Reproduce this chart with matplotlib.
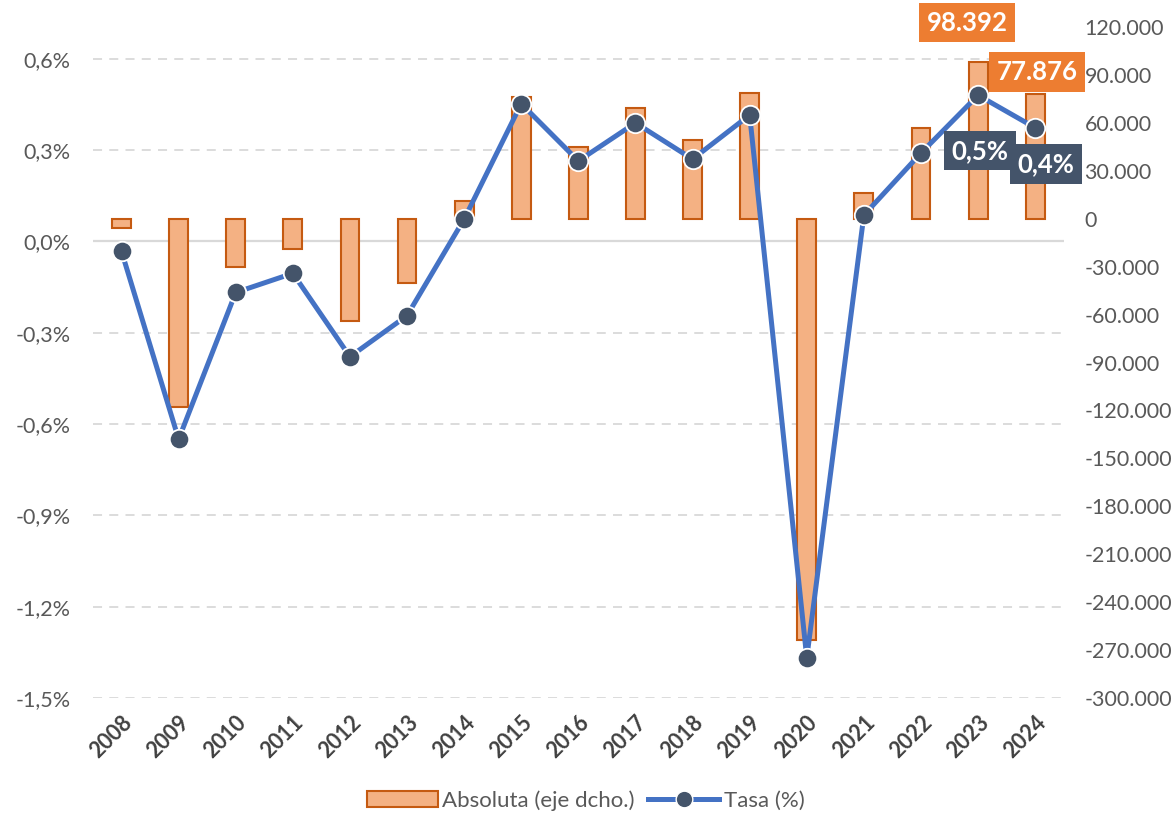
import matplotlib
matplotlib.use("Agg")
import matplotlib.pyplot as plt
import matplotlib.transforms as mtransforms
from matplotlib.patches import Patch
from matplotlib.lines import Line2D
import numpy as np

plt.rcParams['font.family'] = ['Lato', 'DejaVu Sans']

years = [2008, 2009, 2010, 2011, 2012, 2013, 2014, 2015, 2016,
         2017, 2018, 2019, 2020, 2021, 2022, 2023, 2024]
# absolute change (right axis)
absoluta = [-6000, -118000, -30000, -18700, -64000, -40000, 11300, 76000, 45000,
            69000, 49000, 79000, -264000, 16000, 57000, 98392, 77876]
# rate in % (left axis)
tasa = [-0.033, -0.65, -0.168, -0.105, -0.379, -0.244, 0.073, 0.452, 0.264,
        0.389, 0.270, 0.415, -1.368, 0.086, 0.29, 0.48, 0.373]

left_ticks = [-1.5, -1.2, -0.9, -0.6, -0.3, 0.0, 0.3, 0.6]
right_ticks = list(range(-300000, 120001, 30000))

GRAY = "#595959"
BAR_FILL = "#F4B183"
BAR_EDGE = "#C55A11"
LINE_C = "#4472C4"
MARK_C = "#44546A"
ORANGE = "#ED7D31"


def fmt_thousands(v):
    return f"{v:,.0f}".replace(",", ".")


def fmt_pct(v):
    return f"{v:.1f}%".replace(".", ",")


fig = plt.figure(figsize=(11.71, 8.16), dpi=100)
ax_bar = fig.add_axes([0.0794, 0.1446, 0.829, 0.8223])
ax_line = ax_bar.twinx()

x = np.array(years)

# bars on the right axis
ax_bar.bar(x, absoluta, width=0.33, color=BAR_FILL, edgecolor=BAR_EDGE,
           linewidth=1.5, zorder=2)
ax_bar.set_ylim(-300000, 120000)
ax_bar.set_yticks(right_ticks)
ax_bar.set_yticklabels([fmt_thousands(v) for v in right_ticks])
ax_bar.yaxis.tick_right()
ax_bar.set_xlim(2007.5, 2024.5)

# line on the left axis
ax_line.plot(x, tasa, color=LINE_C, lw=3.6, marker="o", markersize=14,
             markerfacecolor=MARK_C, markeredgecolor="white",
             markeredgewidth=1.3, zorder=3)
ax_line.set_ylim(-1.5, 0.704)
ax_line.set_yticks(left_ticks)
ax_line.set_yticklabels([fmt_pct(v) for v in left_ticks])
ax_line.yaxis.tick_left()

# gridlines following the left axis, behind the bars
trans = mtransforms.blended_transform_factory(ax_bar.transAxes, ax_line.transData)
for v in left_ticks:
    if v == 0:
        ax_bar.plot([0, 1], [v, v], transform=trans, color="#D9D9D9", lw=1.6, zorder=1)
    else:
        ax_bar.plot([0, 1], [v, v], transform=trans, color="#D9D9D9", lw=1.3,
                    ls=(0, (5, 4)), zorder=1)

for a in (ax_bar, ax_line):
    for s in a.spines.values():
        s.set_visible(False)
    a.tick_params(axis="y", length=0, labelsize=15.5, labelcolor=GRAY)

ax_bar.tick_params(axis="y", pad=15)
ax_line.tick_params(axis="y", pad=16)
ax_bar.set_xticks(x)
ax_bar.set_xticklabels([str(y) for y in years], rotation=45, ha="right",
                       rotation_mode="anchor", fontweight="bold", color="#404040",
                       fontsize=15.5)
ax_bar.tick_params(axis="x", length=0, pad=10)

# data labels
lab_kw = dict(textcoords="offset points", ha="center", va="center",
              color="white", fontweight="bold", fontsize=18.5, annotation_clip=False)
ax_bar.annotate(fmt_thousands(absoluta[-2]), (years[-2], absoluta[-2]),
                xytext=(-8, 28),
                bbox=dict(boxstyle="square,pad=0.3", fc=ORANGE, ec="none"), **lab_kw)
ax_bar.annotate(fmt_thousands(absoluta[-1]), (years[-1], absoluta[-1]),
                xytext=(1.5, 16),
                bbox=dict(boxstyle="square,pad=0.3", fc=ORANGE, ec="none"), **lab_kw)
ax_line.annotate(fmt_pct(tasa[-2]), (years[-2], tasa[-2]), xytext=(1.5, -40),
                 bbox=dict(boxstyle="square,pad=0.3", fc=MARK_C, ec="none"),
                 zorder=5, **lab_kw)
ax_line.annotate(fmt_pct(tasa[-1]), (years[-1], tasa[-1]), xytext=(8, -26),
                 bbox=dict(boxstyle="square,pad=0.3", fc=MARK_C, ec="none"),
                 zorder=5, **lab_kw)

handles = [Patch(facecolor=BAR_FILL, edgecolor=BAR_EDGE, linewidth=1.5),
           Line2D([], [], color=LINE_C, lw=3.6, marker="o", markersize=12,
                  markerfacecolor=MARK_C, markeredgecolor="white")]
fig.legend(handles, ["Absoluta (eje dcho.)", "Tasa (%)"], loc="lower center",
           bbox_to_anchor=(0.5, -0.018), ncol=2, frameon=False, fontsize=16,
           labelcolor=GRAY, handlelength=3.2, handletextpad=0.2, columnspacing=0.6)

fig.savefig("out.png", dpi=100)
